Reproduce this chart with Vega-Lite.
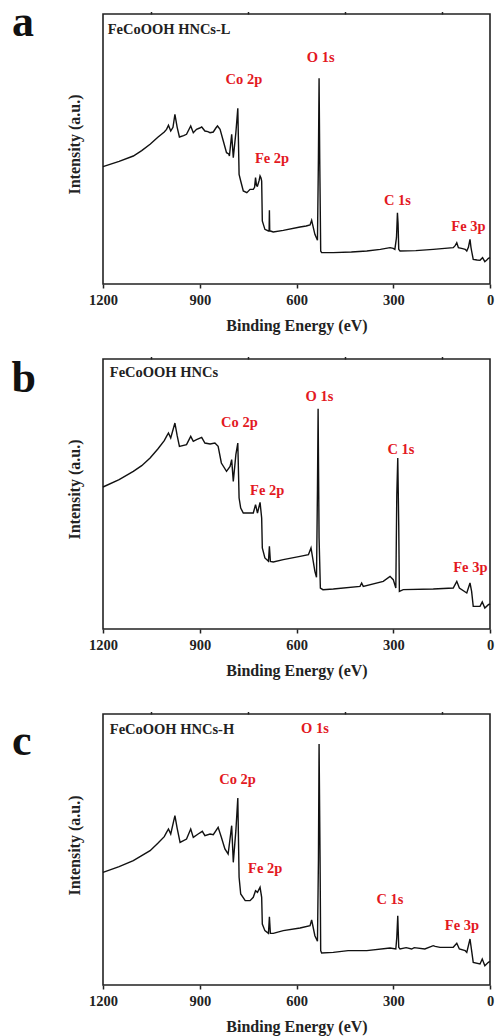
{
  "$schema": "https://vega.github.io/schema/vega-lite/v6.json",
  "background": "white",
  "padding": {"left": 10, "top": 0, "right": 0, "bottom": 2},
  "datasets": {
    "spectra": [
      {"panel":"a","E":1200,"I":352},{"panel":"a","E":1150,"I":368},{"panel":"a","E":1106,"I":384},{"panel":"a","E":1080,"I":400},{"panel":"a","E":1054,"I":419},{"panel":"a","E":1030,"I":440},{"panel":"a","E":1010,"I":456},{"panel":"a","E":1003,"I":464},{"panel":"a","E":997,"I":476},{"panel":"a","E":990,"I":459},{"panel":"a","E":983,"I":470},{"panel":"a","E":977,"I":509},{"panel":"a","E":970,"I":470},{"panel":"a","E":963,"I":441},{"panel":"a","E":950,"I":445},{"panel":"a","E":941,"I":449},{"panel":"a","E":928,"I":474},{"panel":"a","E":920,"I":454},{"panel":"a","E":910,"I":464},{"panel":"a","E":900,"I":468},{"panel":"a","E":894,"I":471},{"panel":"a","E":884,"I":459},{"panel":"a","E":875,"I":457},{"panel":"a","E":868,"I":454},{"panel":"a","E":858,"I":456},{"panel":"a","E":850,"I":468},{"panel":"a","E":845,"I":474},{"panel":"a","E":837,"I":464},{"panel":"a","E":827,"I":429},{"panel":"a","E":817,"I":394},{"panel":"a","E":810,"I":390},{"panel":"a","E":808,"I":384},{"panel":"a","E":801,"I":449},{"panel":"a","E":796,"I":379},{"panel":"a","E":788,"I":454},{"panel":"a","E":782,"I":527},{"panel":"a","E":778,"I":329},{"panel":"a","E":773,"I":309},{"panel":"a","E":765,"I":279},{"panel":"a","E":754,"I":274},{"panel":"a","E":744,"I":284},{"panel":"a","E":734,"I":284},{"panel":"a","E":730,"I":290},{"panel":"a","E":727,"I":319},{"panel":"a","E":724,"I":295},{"panel":"a","E":721,"I":294},{"panel":"a","E":716,"I":310},{"panel":"a","E":713,"I":324},{"panel":"a","E":710,"I":318},{"panel":"a","E":708,"I":309},{"panel":"a","E":706,"I":189},{"panel":"a","E":698,"I":164},{"panel":"a","E":687,"I":159},{"panel":"a","E":685,"I":159},{"panel":"a","E":684,"I":221},{"panel":"a","E":683,"I":160},{"panel":"a","E":681,"I":159},{"panel":"a","E":672,"I":156},{"panel":"a","E":641,"I":161},{"panel":"a","E":589,"I":171},{"panel":"a","E":570,"I":174},{"panel":"a","E":558,"I":177},{"panel":"a","E":553,"I":191},{"panel":"a","E":548,"I":170},{"panel":"a","E":543,"I":149},{"panel":"a","E":535,"I":131},{"panel":"a","E":532,"I":379},{"panel":"a","E":530,"I":617},{"panel":"a","E":528,"I":379},{"panel":"a","E":525,"I":99},{"panel":"a","E":522,"I":94},{"panel":"a","E":486,"I":94},{"panel":"a","E":430,"I":96},{"panel":"a","E":382,"I":99},{"panel":"a","E":340,"I":104},{"panel":"a","E":310,"I":109},{"panel":"a","E":300,"I":107},{"panel":"a","E":295,"I":104},{"panel":"a","E":290,"I":139},{"panel":"a","E":287,"I":214},{"panel":"a","E":285,"I":180},{"panel":"a","E":283,"I":104},{"panel":"a","E":279,"I":99},{"panel":"a","E":230,"I":100},{"panel":"a","E":176,"I":104},{"panel":"a","E":114,"I":109},{"panel":"a","E":108,"I":115},{"panel":"a","E":103,"I":124},{"panel":"a","E":98,"I":109},{"panel":"a","E":85,"I":106},{"panel":"a","E":77,"I":104},{"panel":"a","E":72,"I":99},{"panel":"a","E":67,"I":110},{"panel":"a","E":62,"I":134},{"panel":"a","E":59,"I":110},{"panel":"a","E":57,"I":99},{"panel":"a","E":52,"I":74},{"panel":"a","E":40,"I":72},{"panel":"a","E":31,"I":71},{"panel":"a","E":23,"I":79},{"panel":"a","E":20,"I":74},{"panel":"a","E":16,"I":67},{"panel":"a","E":10,"I":72},{"panel":"a","E":5,"I":77},{"panel":"a","E":0,"I":79},

      {"panel":"b","E":1200,"I":426},{"panel":"b","E":1150,"I":448},{"panel":"b","E":1106,"I":473},{"panel":"b","E":1080,"I":490},{"panel":"b","E":1054,"I":513},{"panel":"b","E":1030,"I":540},{"panel":"b","E":1010,"I":565},{"panel":"b","E":1003,"I":578},{"panel":"b","E":997,"I":588},{"panel":"b","E":990,"I":573},{"panel":"b","E":977,"I":618},{"panel":"b","E":970,"I":580},{"panel":"b","E":963,"I":548},{"panel":"b","E":941,"I":553},{"panel":"b","E":928,"I":578},{"panel":"b","E":920,"I":563},{"panel":"b","E":910,"I":568},{"panel":"b","E":894,"I":575},{"panel":"b","E":884,"I":558},{"panel":"b","E":868,"I":555},{"panel":"b","E":853,"I":558},{"panel":"b","E":843,"I":548},{"panel":"b","E":833,"I":498},{"panel":"b","E":817,"I":473},{"panel":"b","E":806,"I":488},{"panel":"b","E":801,"I":508},{"panel":"b","E":796,"I":443},{"panel":"b","E":788,"I":523},{"panel":"b","E":782,"I":558},{"panel":"b","E":778,"I":393},{"panel":"b","E":773,"I":363},{"panel":"b","E":765,"I":348},{"panel":"b","E":750,"I":348},{"panel":"b","E":734,"I":348},{"panel":"b","E":727,"I":373},{"panel":"b","E":721,"I":348},{"panel":"b","E":713,"I":380},{"panel":"b","E":708,"I":333},{"panel":"b","E":706,"I":243},{"panel":"b","E":698,"I":213},{"panel":"b","E":687,"I":203},{"panel":"b","E":684,"I":248},{"panel":"b","E":681,"I":203},{"panel":"b","E":672,"I":201},{"panel":"b","E":641,"I":208},{"panel":"b","E":589,"I":218},{"panel":"b","E":563,"I":223},{"panel":"b","E":555,"I":243},{"panel":"b","E":543,"I":173},{"panel":"b","E":538,"I":155},{"panel":"b","E":535,"I":418},{"panel":"b","E":533,"I":661},{"panel":"b","E":530,"I":273},{"panel":"b","E":526,"I":123},{"panel":"b","E":518,"I":118},{"panel":"b","E":486,"I":120},{"panel":"b","E":403,"I":128},{"panel":"b","E":398,"I":138},{"panel":"b","E":393,"I":128},{"panel":"b","E":331,"I":143},{"panel":"b","E":310,"I":158},{"panel":"b","E":300,"I":148},{"panel":"b","E":292,"I":123},{"panel":"b","E":289,"I":403},{"panel":"b","E":286,"I":513},{"panel":"b","E":283,"I":313},{"panel":"b","E":281,"I":113},{"panel":"b","E":269,"I":118},{"panel":"b","E":176,"I":120},{"panel":"b","E":114,"I":123},{"panel":"b","E":103,"I":143},{"panel":"b","E":95,"I":123},{"panel":"b","E":72,"I":108},{"panel":"b","E":62,"I":138},{"panel":"b","E":57,"I":113},{"panel":"b","E":52,"I":68},{"panel":"b","E":31,"I":68},{"panel":"b","E":24,"I":81},{"panel":"b","E":16,"I":63},{"panel":"b","E":5,"I":73},{"panel":"b","E":0,"I":75},

      {"panel":"c","E":1200,"I":338},{"panel":"c","E":1150,"I":355},{"panel":"c","E":1106,"I":373},{"panel":"c","E":1080,"I":388},{"panel":"c","E":1054,"I":403},{"panel":"c","E":1030,"I":425},{"panel":"c","E":1010,"I":445},{"panel":"c","E":1003,"I":458},{"panel":"c","E":997,"I":468},{"panel":"c","E":990,"I":453},{"panel":"c","E":977,"I":508},{"panel":"c","E":970,"I":470},{"panel":"c","E":961,"I":428},{"panel":"c","E":941,"I":438},{"panel":"c","E":928,"I":468},{"panel":"c","E":920,"I":443},{"panel":"c","E":905,"I":453},{"panel":"c","E":892,"I":461},{"panel":"c","E":884,"I":448},{"panel":"c","E":868,"I":453},{"panel":"c","E":858,"I":451},{"panel":"c","E":843,"I":473},{"panel":"c","E":833,"I":443},{"panel":"c","E":822,"I":408},{"panel":"c","E":812,"I":393},{"panel":"c","E":801,"I":478},{"panel":"c","E":796,"I":368},{"panel":"c","E":788,"I":463},{"panel":"c","E":782,"I":561},{"panel":"c","E":778,"I":323},{"panel":"c","E":773,"I":273},{"panel":"c","E":759,"I":253},{"panel":"c","E":744,"I":253},{"panel":"c","E":734,"I":263},{"panel":"c","E":727,"I":283},{"panel":"c","E":721,"I":278},{"panel":"c","E":713,"I":293},{"panel":"c","E":708,"I":263},{"panel":"c","E":706,"I":183},{"panel":"c","E":698,"I":163},{"panel":"c","E":687,"I":155},{"panel":"c","E":684,"I":205},{"panel":"c","E":681,"I":155},{"panel":"c","E":672,"I":155},{"panel":"c","E":641,"I":163},{"panel":"c","E":589,"I":171},{"panel":"c","E":558,"I":178},{"panel":"c","E":553,"I":195},{"panel":"c","E":543,"I":148},{"panel":"c","E":535,"I":131},{"panel":"c","E":532,"I":373},{"panel":"c","E":530,"I":723},{"panel":"c","E":527,"I":383},{"panel":"c","E":525,"I":103},{"panel":"c","E":522,"I":96},{"panel":"c","E":486,"I":98},{"panel":"c","E":440,"I":103},{"panel":"c","E":382,"I":103},{"panel":"c","E":310,"I":111},{"panel":"c","E":292,"I":108},{"panel":"c","E":289,"I":143},{"panel":"c","E":286,"I":208},{"panel":"c","E":283,"I":113},{"panel":"c","E":279,"I":108},{"panel":"c","E":260,"I":112},{"panel":"c","E":243,"I":108},{"panel":"c","E":235,"I":112},{"panel":"c","E":202,"I":108},{"panel":"c","E":176,"I":118},{"panel":"c","E":170,"I":116},{"panel":"c","E":155,"I":113},{"panel":"c","E":134,"I":113},{"panel":"c","E":114,"I":113},{"panel":"c","E":103,"I":125},{"panel":"c","E":95,"I":108},{"panel":"c","E":77,"I":103},{"panel":"c","E":72,"I":98},{"panel":"c","E":62,"I":138},{"panel":"c","E":57,"I":103},{"panel":"c","E":52,"I":68},{"panel":"c","E":31,"I":63},{"panel":"c","E":24,"I":78},{"panel":"c","E":16,"I":58},{"panel":"c","E":5,"I":68},{"panel":"c","E":0,"I":71}
    ],
    "labels": [
      {"panel":"a","kind":"letter","E":1448,"I":744,"text":"a"},
      {"panel":"a","kind":"sample","E":1185.5,"I":749,"text":"FeCoOOH HNCs-L"},
      {"panel":"a","kind":"peak","E":763,"I":599,"text":"Co 2p"},
      {"panel":"a","kind":"peak","E":676,"I":362,"text":"Fe 2p"},
      {"panel":"a","kind":"peak","E":525,"I":666,"text":"O 1s"},
      {"panel":"a","kind":"peak","E":287,"I":237,"text":"C 1s"},
      {"panel":"a","kind":"peak","E":67,"I":159,"text":"Fe 3p"},
      {"panel":"b","kind":"letter","E":1446,"I":710,"text":"b"},
      {"panel":"b","kind":"sample","E":1179,"I":756,"text":"FeCoOOH HNCs"},
      {"panel":"b","kind":"peak","E":777,"I":605,"text":"Co 2p"},
      {"panel":"b","kind":"peak","E":691,"I":403,"text":"Fe 2p"},
      {"panel":"b","kind":"peak","E":529,"I":683,"text":"O 1s"},
      {"panel":"b","kind":"peak","E":276,"I":525,"text":"C 1s"},
      {"panel":"b","kind":"peak","E":61,"I":171,"text":"Fe 3p"},
      {"panel":"c","kind":"letter","E":1452,"I":691,"text":"c"},
      {"panel":"c","kind":"sample","E":1179,"I":753,"text":"FeCoOOH HNCs-H"},
      {"panel":"c","kind":"peak","E":783,"I":603,"text":"Co 2p"},
      {"panel":"c","kind":"peak","E":697,"I":335,"text":"Fe 2p"},
      {"panel":"c","kind":"peak","E":543,"I":755,"text":"O 1s"},
      {"panel":"c","kind":"peak","E":310,"I":243,"text":"C 1s"},
      {"panel":"c","kind":"peak","E":87,"I":165,"text":"Fe 3p"}
    ]
  },
  "bounds": "flush",
  "spacing": 5,
  "vconcat": [
    {
      "width": 387, "height": 270,
      "resolve": {"axis": {"x": "independent"}},
      "layer": [
        {"data": {"name": "spectra"}, "transform": [{"filter": "datum.panel === 'a'"}],
         "mark": {"type": "line", "color": "#111", "strokeWidth": 1.4},
         "encoding": {
           "x": {"field": "E", "type": "quantitative", "scale": {"domain": [0, 1200], "reverse": true, "nice": false, "zero": false},
                 "axis": {"values": [1200, 900, 600, 300, 0], "format": "d", "title": "Binding Energy (eV)", "labelFontSize": 14.5, "titleFontSize": 16, "tickSize": 4, "tickWidth": 1.5, "domain": false, "labelPadding": 5, "titlePadding": 11, "labelFlush": false, "labelOverlap": false}},
           "y": {"field": "I", "type": "quantitative", "scale": {"domain": [0, 810], "nice": false, "zero": false},
                 "axis": {"title": "Intensity (a.u.)", "labels": false, "ticks": false, "domain": false, "titleFontSize": 16, "titlePadding": 21, "titleY": 130}}
         }},
        {"data": {"name": "labels"}, "transform": [{"filter": "datum.panel === 'a' && datum.kind === 'peak'"}],
         "mark": {"type": "text", "color": "#e3191f", "font": "Liberation Serif", "fontWeight": "bold", "fontSize": 14.5, "align": "center", "baseline": "alphabetic", "clip": false},
         "encoding": {
           "x": {"field": "E", "type": "quantitative", "scale": {"domain": [0, 1200], "reverse": true, "nice": false, "zero": false},
                 "axis": {"values": [1050, 750, 450, 150], "labels": false, "title": null, "domain": false, "tickSize": 2.5, "tickWidth": 1.5}},
           "y": {"field": "I", "type": "quantitative", "scale": {"domain": [0, 810], "nice": false, "zero": false},
                 "axis": {"title": "Intensity (a.u.)", "labels": false, "ticks": false, "domain": false, "titleFontSize": 16, "titlePadding": 21, "titleY": 130}},
           "text": {"field": "text"}
         }},
        {"data": {"name": "labels"}, "transform": [{"filter": "datum.panel === 'a' && datum.kind === 'sample'"}],
         "mark": {"type": "text", "color": "#222", "font": "Liberation Serif", "fontWeight": "bold", "fontSize": 14.5, "align": "left", "baseline": "alphabetic", "clip": false},
         "encoding": {
           "x": {"field": "E", "type": "quantitative", "scale": {"domain": [0, 1200], "reverse": true, "nice": false, "zero": false}, "axis": null},
           "y": {"field": "I", "type": "quantitative", "scale": {"domain": [0, 810], "nice": false, "zero": false},
                 "axis": {"title": "Intensity (a.u.)", "labels": false, "ticks": false, "domain": false, "titleFontSize": 16, "titlePadding": 21, "titleY": 130}},
           "text": {"field": "text"}
         }},
        {"data": {"name": "labels"}, "transform": [{"filter": "datum.panel === 'a' && datum.kind === 'letter'"}],
         "mark": {"type": "text", "color": "#111", "font": "Liberation Serif", "fontWeight": "bold", "fontSize": 44, "align": "center", "baseline": "alphabetic", "clip": false},
         "encoding": {
           "x": {"field": "E", "type": "quantitative", "scale": {"domain": [0, 1200], "reverse": true, "nice": false, "zero": false}, "axis": null},
           "y": {"field": "I", "type": "quantitative", "scale": {"domain": [0, 810], "nice": false, "zero": false},
                 "axis": {"title": "Intensity (a.u.)", "labels": false, "ticks": false, "domain": false, "titleFontSize": 16, "titlePadding": 21, "titleY": 130}},
           "text": {"field": "text"}
         }}
      ]
    },
    {
      "width": 387, "height": 65,
      "view": {"stroke": null},
      "data": {"values": []},
      "mark": {"type": "point", "opacity": 0}
    },
    {
      "width": 387, "height": 270,
      "resolve": {"axis": {"x": "independent"}},
      "layer": [
        {"data": {"name": "spectra"}, "transform": [{"filter": "datum.panel === 'b'"}],
         "mark": {"type": "line", "color": "#111", "strokeWidth": 1.4},
         "encoding": {
           "x": {"field": "E", "type": "quantitative", "scale": {"domain": [0, 1200], "reverse": true, "nice": false, "zero": false},
                 "axis": {"values": [1200, 900, 600, 300, 0], "format": "d", "title": "Binding Energy (eV)", "labelFontSize": 14.5, "titleFontSize": 16, "tickSize": 4, "tickWidth": 1.5, "domain": false, "labelPadding": 5, "titlePadding": 11, "labelFlush": false, "labelOverlap": false}},
           "y": {"field": "I", "type": "quantitative", "scale": {"domain": [0, 810], "nice": false, "zero": false},
                 "axis": {"title": "Intensity (a.u.)", "labels": false, "ticks": false, "domain": false, "titleFontSize": 16, "titlePadding": 21, "titleY": 130}}
         }},
        {"data": {"name": "labels"}, "transform": [{"filter": "datum.panel === 'b' && datum.kind === 'peak'"}],
         "mark": {"type": "text", "color": "#e3191f", "font": "Liberation Serif", "fontWeight": "bold", "fontSize": 14.5, "align": "center", "baseline": "alphabetic", "clip": false},
         "encoding": {
           "x": {"field": "E", "type": "quantitative", "scale": {"domain": [0, 1200], "reverse": true, "nice": false, "zero": false},
                 "axis": {"values": [1050, 750, 450, 150], "labels": false, "title": null, "domain": false, "tickSize": 2.5, "tickWidth": 1.5}},
           "y": {"field": "I", "type": "quantitative", "scale": {"domain": [0, 810], "nice": false, "zero": false},
                 "axis": {"title": "Intensity (a.u.)", "labels": false, "ticks": false, "domain": false, "titleFontSize": 16, "titlePadding": 21, "titleY": 130}},
           "text": {"field": "text"}
         }},
        {"data": {"name": "labels"}, "transform": [{"filter": "datum.panel === 'b' && datum.kind === 'sample'"}],
         "mark": {"type": "text", "color": "#222", "font": "Liberation Serif", "fontWeight": "bold", "fontSize": 14.5, "align": "left", "baseline": "alphabetic", "clip": false},
         "encoding": {
           "x": {"field": "E", "type": "quantitative", "scale": {"domain": [0, 1200], "reverse": true, "nice": false, "zero": false}, "axis": null},
           "y": {"field": "I", "type": "quantitative", "scale": {"domain": [0, 810], "nice": false, "zero": false},
                 "axis": {"title": "Intensity (a.u.)", "labels": false, "ticks": false, "domain": false, "titleFontSize": 16, "titlePadding": 21, "titleY": 130}},
           "text": {"field": "text"}
         }},
        {"data": {"name": "labels"}, "transform": [{"filter": "datum.panel === 'b' && datum.kind === 'letter'"}],
         "mark": {"type": "text", "color": "#111", "font": "Liberation Serif", "fontWeight": "bold", "fontSize": 44, "align": "center", "baseline": "alphabetic", "clip": false},
         "encoding": {
           "x": {"field": "E", "type": "quantitative", "scale": {"domain": [0, 1200], "reverse": true, "nice": false, "zero": false}, "axis": null},
           "y": {"field": "I", "type": "quantitative", "scale": {"domain": [0, 810], "nice": false, "zero": false},
                 "axis": {"title": "Intensity (a.u.)", "labels": false, "ticks": false, "domain": false, "titleFontSize": 16, "titlePadding": 21, "titleY": 130}},
           "text": {"field": "text"}
         }}
      ]
    },
    {
      "width": 387, "height": 75,
      "view": {"stroke": null},
      "data": {"values": []},
      "mark": {"type": "point", "opacity": 0}
    },
    {
      "width": 387, "height": 271,
      "resolve": {"axis": {"x": "independent"}},
      "layer": [
        {"data": {"name": "spectra"}, "transform": [{"filter": "datum.panel === 'c'"}],
         "mark": {"type": "line", "color": "#111", "strokeWidth": 1.4},
         "encoding": {
           "x": {"field": "E", "type": "quantitative", "scale": {"domain": [0, 1200], "reverse": true, "nice": false, "zero": false},
                 "axis": {"values": [1200, 900, 600, 300, 0], "format": "d", "title": "Binding Energy (eV)", "labelFontSize": 14.5, "titleFontSize": 16, "tickSize": 4, "tickWidth": 1.5, "domain": false, "labelPadding": 5, "titlePadding": 11, "labelFlush": false, "labelOverlap": false}},
           "y": {"field": "I", "type": "quantitative", "scale": {"domain": [0, 813], "nice": false, "zero": false},
                 "axis": {"title": "Intensity (a.u.)", "labels": false, "ticks": false, "domain": false, "titleFontSize": 16, "titlePadding": 21, "titleY": 131}}
         }},
        {"data": {"name": "labels"}, "transform": [{"filter": "datum.panel === 'c' && datum.kind === 'peak'"}],
         "mark": {"type": "text", "color": "#e3191f", "font": "Liberation Serif", "fontWeight": "bold", "fontSize": 14.5, "align": "center", "baseline": "alphabetic", "clip": false},
         "encoding": {
           "x": {"field": "E", "type": "quantitative", "scale": {"domain": [0, 1200], "reverse": true, "nice": false, "zero": false},
                 "axis": {"values": [1050, 750, 450, 150], "labels": false, "title": null, "domain": false, "tickSize": 2.5, "tickWidth": 1.5}},
           "y": {"field": "I", "type": "quantitative", "scale": {"domain": [0, 813], "nice": false, "zero": false},
                 "axis": {"title": "Intensity (a.u.)", "labels": false, "ticks": false, "domain": false, "titleFontSize": 16, "titlePadding": 21, "titleY": 131}},
           "text": {"field": "text"}
         }},
        {"data": {"name": "labels"}, "transform": [{"filter": "datum.panel === 'c' && datum.kind === 'sample'"}],
         "mark": {"type": "text", "color": "#222", "font": "Liberation Serif", "fontWeight": "bold", "fontSize": 14.5, "align": "left", "baseline": "alphabetic", "clip": false},
         "encoding": {
           "x": {"field": "E", "type": "quantitative", "scale": {"domain": [0, 1200], "reverse": true, "nice": false, "zero": false}, "axis": null},
           "y": {"field": "I", "type": "quantitative", "scale": {"domain": [0, 813], "nice": false, "zero": false},
                 "axis": {"title": "Intensity (a.u.)", "labels": false, "ticks": false, "domain": false, "titleFontSize": 16, "titlePadding": 21, "titleY": 131}},
           "text": {"field": "text"}
         }},
        {"data": {"name": "labels"}, "transform": [{"filter": "datum.panel === 'c' && datum.kind === 'letter'"}],
         "mark": {"type": "text", "color": "#111", "font": "Liberation Serif", "fontWeight": "bold", "fontSize": 44, "align": "center", "baseline": "alphabetic", "clip": false},
         "encoding": {
           "x": {"field": "E", "type": "quantitative", "scale": {"domain": [0, 1200], "reverse": true, "nice": false, "zero": false}, "axis": null},
           "y": {"field": "I", "type": "quantitative", "scale": {"domain": [0, 813], "nice": false, "zero": false},
                 "axis": {"title": "Intensity (a.u.)", "labels": false, "ticks": false, "domain": false, "titleFontSize": 16, "titlePadding": 21, "titleY": 131}},
           "text": {"field": "text"}
         }}
      ]
    }
  ],
  "config": {
    "view": {"stroke": "#222", "strokeWidth": 1.6},
    "axis": {"labelFont": "Liberation Serif", "titleFont": "Liberation Serif", "labelFontWeight": "bold", "titleFontWeight": "bold", "labelColor": "#222", "titleColor": "#222", "tickColor": "#222", "grid": false}
  }
}
